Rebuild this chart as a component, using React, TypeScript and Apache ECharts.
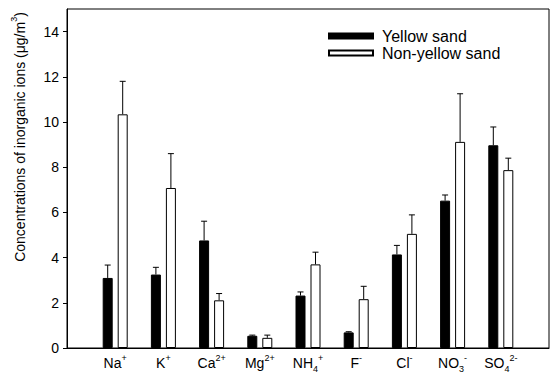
import React, { useEffect, useRef } from "react";
import * as echarts from "echarts";

const categories = ["Na{sup|+}", "K{sup|+}", "Ca{sup|2+}", "Mg{sup|2+}", "NH{sub|4}{sup|+}", "F{sup|-}", "Cl{sup|-}", "NO{sub|3}{sup|-}", "SO{sub|4}{sup|2-}"];
const yellowSand = [3.1, 3.25, 4.76, 0.54, 2.32, 0.69, 4.14, 6.52, 8.97];
const yellowSandErr = [3.67, 3.57, 5.61, 0.57, 2.48, 0.72, 4.54, 6.77, 9.78];
const nonYellowSand = [10.34, 7.08, 2.11, 0.45, 3.7, 2.16, 5.05, 9.12, 7.87];
const nonYellowSandErr = [11.8, 8.6, 2.41, 0.57, 4.24, 2.73, 5.89, 11.25, 8.4];
const yTicks = [0, 2, 4, 6, 8, 10, 12, 14];

const FONT = "Liberation Sans, Arial, Helvetica, sans-serif";

function errorSeries(name: string, vals: number[], errs: number[], offset: number) {
  return {
    type: "custom",
    name: name + " err",
    silent: true,
    z: 1,
    data: vals.map((v, i) => [i + 1, errs[i], v]),
    renderItem: (params: any, api: any) => {
      const top = api.coord([api.value(0), api.value(1)]);
      const base = api.coord([api.value(0), api.value(2)]);
      const x = top[0] + offset;
      return {
        type: "group",
        children: [
          { type: "line", shape: { x1: x, y1: base[1], x2: x, y2: top[1] }, style: { stroke: "#000", lineWidth: 1 } },
          { type: "line", shape: { x1: x - 3, y1: top[1], x2: x + 3, y2: top[1] }, style: { stroke: "#000", lineWidth: 1 } },
        ],
      };
    },
  };
}

export default function App() {
  const ref = useRef<HTMLDivElement>(null);
  useEffect(() => {
    if (!ref.current) return;
    const chart = echarts.init(ref.current, undefined, { renderer: "svg" });
    const xCats = ["", ...categories, ""];
    chart.setOption({
      animation: false,
      backgroundColor: "#fff",
      textStyle: { fontFamily: FONT },
      grid: { left: 67, right: 4, top: 9, bottom: 32, show: true, borderColor: "#000", borderWidth: 1, backgroundColor: "transparent" },
      legend: {
        orient: "vertical",
        left: 323,
        top: 23,
        itemWidth: 44,
        itemHeight: 5,
        itemGap: 1,
        icon: "rect",
        textStyle: { fontSize: 16, color: "#000", fontFamily: FONT, lineHeight: 16, padding: [0, 0, 0, 4] },
        data: ["Yellow sand", "Non-yellow sand"],
      },
      graphic: [
        {
          type: "text",
          x: 18,
          y: 137,
          rotation: Math.PI / 2,
          style: {
            text: "{t|Concentrations of inorganic ions (μg/m}{s|3}{t|)}",
            align: "center",
            verticalAlign: "middle",
            fill: "#000",
            rich: {
              t: { fontSize: 14, fontFamily: FONT, lineHeight: 18, verticalAlign: "bottom", fill: "#000" },
              s: { fontSize: 9, fontFamily: FONT, lineHeight: 12, verticalAlign: "top", fill: "#000" },
            },
          },
        },
      ],
      xAxis: {
        type: "category",
        data: xCats,
        boundaryGap: false,
        axisLine: { show: true, lineStyle: { color: "#000", width: 1 } },
        axisTick: { show: false },
        splitLine: { show: false },
        axisLabel: {
          interval: 0,
          margin: 5,
          color: "#000",
          rich: {
            n: { fontSize: 14, fontFamily: FONT, color: "#000", lineHeight: 20, verticalAlign: "middle" },
            sup: { fontSize: 9, fontFamily: FONT, color: "#000", verticalAlign: "top", lineHeight: 9 },
            sub: { fontSize: 9, fontFamily: FONT, color: "#000", verticalAlign: "bottom", lineHeight: 9 },
          },
          formatter: (v: string) => {
            if (!v) return "";
            return v.replace(/^([A-Za-z]+)/, "{n|$1}").replace(/\}([A-Za-z]+)\{/g, "}{n|$1}{");
          },
        },
      },
      yAxis: {
        type: "value",
        min: 0,
        max: 15,
        interval: 1,
        axisLine: { show: true, lineStyle: { color: "#000", width: 1 } },
        axisTick: { show: true, length: 4, lineStyle: { color: "#000" }, customValues: yTicks },
        axisLabel: { fontSize: 14, color: "#000", margin: 8, customValues: yTicks, fontFamily: FONT },
        splitLine: { show: false },
      },
      series: [
        {
          type: "bar",
          name: "Yellow sand",
          data: yellowSand.map((v, i) => [i + 1, v]),
          barWidth: 10,
          barGap: "50%",
          z: 2,
          itemStyle: { color: "#000", borderColor: "#000", borderWidth: 1 },
        },
        {
          type: "bar",
          name: "Non-yellow sand",
          data: nonYellowSand.map((v, i) => [i + 1, v]),
          barWidth: 10,
          barGap: "50%",
          z: 2,
          itemStyle: { color: "#fff", borderColor: "#000", borderWidth: 1 },
        },
        errorSeries("Yellow sand", yellowSand, yellowSandErr, -7.5),
        errorSeries("Non-yellow sand", nonYellowSand, nonYellowSandErr, 7.5),
      ],
    });
    return () => chart.dispose();
  }, []);
  return <div ref={ref} style={{ position: "fixed", left: 0, top: 0, width: 553, height: 380 }} />;
}
